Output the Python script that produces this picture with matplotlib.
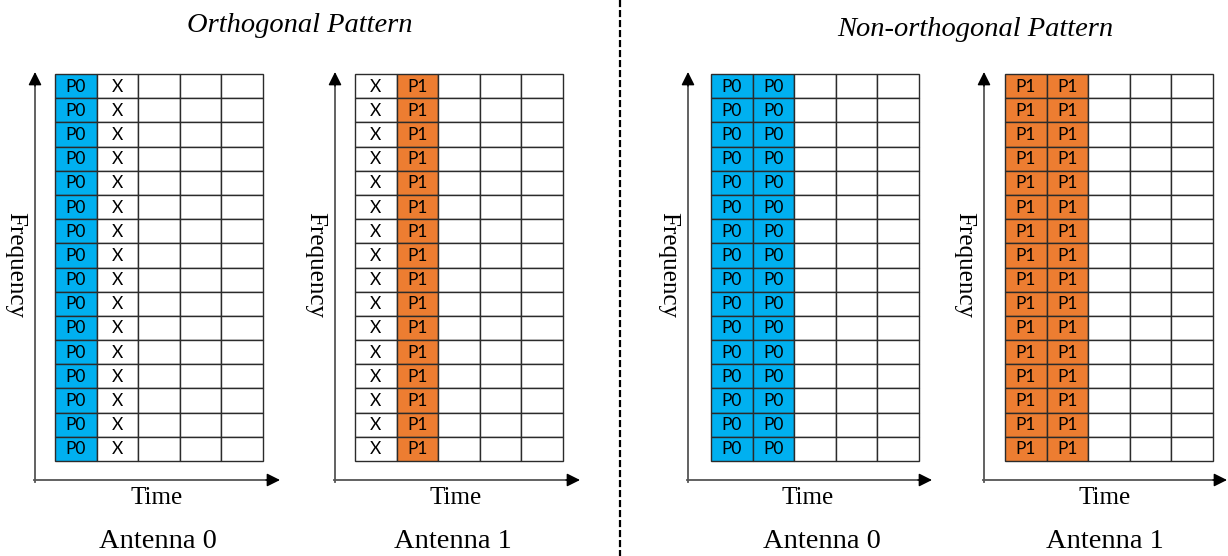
import matplotlib.pyplot as plt
from matplotlib.patches import Rectangle

# Resource grid contents (one entry per time column, repeated on all frequency rows)
n_rows = 16
n_cols = 5
orth_ant0 = ['P0', 'X', '', '', '']
orth_ant1 = ['X', 'P1', '', '', '']
nonorth_ant0 = ['P0', 'P0', '', '', '']
nonorth_ant1 = ['P1', 'P1', '', '', '']

panel_grids = [orth_ant0, orth_ant1, nonorth_ant0, nonorth_ant1]
panel_names = ['Antenna 0', 'Antenna 1', 'Antenna 0', 'Antenna 1']
titles = ['Orthogonal Pattern', 'Non-orthogonal Pattern']

fill_colors = {'P0': '#00B0F0', 'P1': '#ED7D31'}

# layout in pixel coordinates (x of grid left edge, axis origin x, arrow tip x)
grid_left = [55, 355, 711, 1005]
axis_x = [35, 335, 688, 984]
arrow_tip = [280, 580, 932, 1227]
time_x = [157, 456, 808, 1105]
ant_x = [158, 453, 822, 1105]
freq_x = [15, 315, 668, 964]
title_x = [300, 975]
title_y = [25, 30]

cell_w = 41.6
grid_top = 74
grid_bottom = 461
cell_h = (grid_bottom - grid_top) / n_rows
axis_y = 480

serif = 'Liberation Serif'
sans = ['Lato', 'DejaVu Sans']

fig = plt.figure(figsize=(12.28, 5.56), dpi=100)
ax = fig.add_axes([0, 0, 1, 1])
ax.set_xlim(0, 1228)
ax.set_ylim(556, 0)
ax.axis('off')

for p, cols in enumerate(panel_grids):
    x0 = grid_left[p]
    for r in range(n_rows):
        y = grid_top + r * cell_h
        for c, lab in enumerate(cols):
            x = x0 + c * cell_w
            ax.add_patch(Rectangle((x, y), cell_w, cell_h,
                                   facecolor=fill_colors.get(lab, 'white'),
                                   edgecolor='#2b2b2b', lw=1.0, zorder=2))
            if lab:
                ax.text(x + cell_w / 2, y + cell_h / 2 + 0.5, lab,
                        ha='center', va='center', fontsize=12.5,
                        family=sans, color='black', zorder=3)

    # axes arrows
    ax.plot([axis_x[p], axis_x[p]], [axis_y + 2, grid_top + 10],
            color='#555555', lw=1.3, zorder=1)
    ax.annotate('', xy=(axis_x[p], grid_top - 2), xytext=(axis_x[p], grid_top + 12),
                arrowprops=dict(arrowstyle='-|>', color='black', lw=1.0,
                                mutation_scale=20, shrinkA=0, shrinkB=0))
    ax.plot([axis_x[p] - 1, arrow_tip[p] - 10], [axis_y, axis_y],
            color='#555555', lw=1.3, zorder=1)
    ax.annotate('', xy=(arrow_tip[p], axis_y), xytext=(arrow_tip[p] - 14, axis_y),
                arrowprops=dict(arrowstyle='-|>', color='black', lw=1.0,
                                mutation_scale=20, shrinkA=0, shrinkB=0))

    ax.text(freq_x[p], (grid_top + grid_bottom) / 2 - 3, 'Frequency', rotation=270,
            ha='center', va='center', fontsize=18, family=serif)
    ax.text(time_x[p], 498, 'Time', ha='center', va='center',
            fontsize=18, family=serif)
    ax.text(ant_x[p], 542, panel_names[p], ha='center', va='center',
            fontsize=20.5, family=serif)

for t, tx, ty in zip(titles, title_x, title_y):
    ax.text(tx, ty, t, ha='center', va='center', fontsize=20.5,
            family=serif, style='italic')

ax.plot([620, 620], [0, 556], color='black', lw=1.6,
        linestyle=(0, (3.2, 1.3)))

fig.savefig('out.png', dpi=100)
